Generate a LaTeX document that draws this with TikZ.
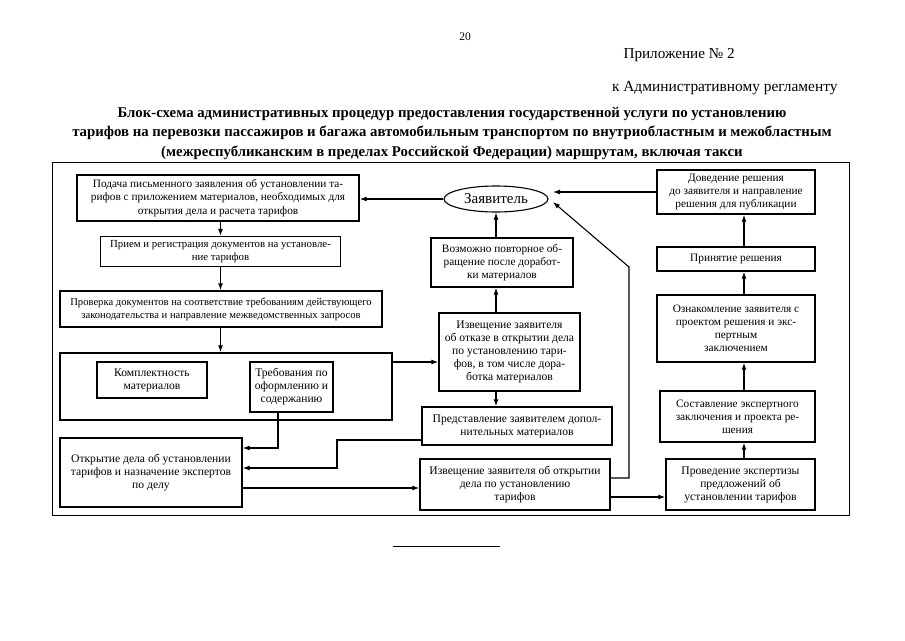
\documentclass[tikz,border=0pt]{standalone}
\usepackage{fontspec}
\setmainfont{Liberation Serif}
\usetikzlibrary{shapes.geometric,arrows.meta}
\begin{document}
\begin{tikzpicture}[x=1pt,y=-1pt,
  box/.style={draw,line width=1.4pt,align=center,inner sep=0pt,font=\fontsize{11.6}{13}\selectfont},
  arr/.style={line width=1.1pt,-{Latex[length=7pt,width=5pt]}},
  ln/.style={line width=1pt}]
\useasboundingbox (0,0) rectangle (905,640);
% header
\node[font=\fontsize{11.5}{13}\selectfont] (pg) at (465,37) {20};
\node[font=\fontsize{15.2}{17}\selectfont,anchor=west] (app) at (620,55) {Приложение № 2};
\node[font=\fontsize{15.4}{17}\selectfont,anchor=east] (reg) at (841,88) {к Административному регламенту};
\node[font=\bfseries\fontsize{14.8}{19.5}\selectfont,align=center] (title) at (452,133) {Блок-схема административных процедур предоставления государственной услуги по установлению\\тарифов на перевозки пассажиров и багажа автомобильным транспортом по внутриобластным и межобластным\\(межреспубликанским в пределах Российской Федерации) маршрутам, включая такси};
% frame
\draw[ln] (52,162) rectangle (849,515);
% left column
\node[box,font=\fontsize{11.3}{13.5}\selectfont,minimum width=282pt,minimum height=46pt] (b1) at (218,198) {Подача письменного заявления об установлении та-\\рифов с приложением материалов, необходимых для\\открытия дела и расчета тарифов};
\node[box,font=\fontsize{10.8}{13}\selectfont,minimum width=240pt,minimum height=30pt] (b2) at (220.5,251.5) {Прием и регистрация документов на установле-\\ние тарифов};
\node[box,font=\fontsize{10.6}{13}\selectfont,minimum width=322pt,minimum height=36pt] (b3) at (221,309) {Проверка документов на соответствие требованиям действующего\\законодательства и направление межведомственных запросов};
\node[box,minimum width=332pt,minimum height=67pt] (big) at (226,386.5) {};
\node[box,minimum width=110pt,minimum height=36pt] (komp) at (152,380) {Комплектность\\материалов};
\node[box,minimum width=83pt,minimum height=50pt] (treb) at (291.5,387) {Требования по\\оформлению и\\содержанию};
\node[box,minimum width=182pt,minimum height=69pt] (otkr) at (151,472.5) {Открытие дела об установлении\\тарифов и назначение экспертов\\по делу};
% middle column
\node[draw,line width=1.1pt,ellipse,minimum width=104pt,minimum height=26pt,inner sep=0pt,font=\fontsize{15}{17}\selectfont] (ell) at (496,199) {Заявитель};
\node[box,font=\fontsize{11.3}{13}\selectfont,minimum width=142pt,minimum height=49pt] (vozm) at (502,262.5) {Возможно повторное об-\\ращение после доработ-\\ки материалов};
\node[box,minimum width=141pt,minimum height=78pt] (otkaz) at (509.5,352) {Извещение заявителя\\об отказе в открытии дела\\по установлению тари-\\фов, в том числе дора-\\ботка материалов};
\node[box,minimum width=190pt,minimum height=38pt] (predst) at (517,426) {Представление заявителем допол-\\нительных материалов};
\node[box,minimum width=190pt,minimum height=51pt] (izv) at (515,484.5) {Извещение заявителя об открытии\\дела по установлению\\тарифов};
% right column
\node[box,font=\fontsize{11.3}{13}\selectfont,minimum width=158pt,minimum height=44pt] (dov) at (736,192) {Доведение решения\\до заявителя и направление\\решения для публикации};
\node[box,font=\fontsize{11.3}{13}\selectfont,minimum width=158pt,minimum height=24pt] (prin) at (736,259) {Принятие решения};
\node[box,font=\fontsize{11.3}{13}\selectfont,minimum width=158pt,minimum height=67pt] (ozn) at (736,328.5) {Ознакомление заявителя с\\проектом решения и экс-\\пертным\\заключением};
\node[box,font=\fontsize{11.3}{13}\selectfont,minimum width=155pt,minimum height=51pt] (sost) at (737.5,416.5) {Составление экспертного\\заключения и проекта ре-\\шения};
\node[box,minimum width=149pt,minimum height=51pt] (prov) at (740.5,484.5) {Проведение экспертизы\\предложений об\\установлении тарифов};
% bottom rule
\coordinate (r1) at (393,546);
\coordinate (r2) at (500,546);
\draw[ln] (r1) -- (r2);
% helper coordinates
\coordinate (et) at (553,202);
\coordinate (et2) at (553,192);
\coordinate (rv) at (629,267);
\coordinate (j1) at (337,468);
\coordinate (j2) at (278,448);
\coordinate (rx) at (744,0);
% connectors
\draw[arr] (dov.west |- et2) -- (et2);
\draw[arr] (ell.west) -- (ell.west -| b1.east);
\draw[arr] (b1.south -| b2.north) -- (b2.north);
\draw[arr] (b2.south) -- (b2.south |- b3.north);
\draw[arr] (b2.south |- b3.south) -- (b2.south |- big.north);
\draw[arr] (big.east |- 0,362) -- (otkaz.west |- 0,362);
\draw[arr] (vozm.north -| ell.south) -- (ell.south);
\draw[arr] (otkaz.north -| ell.south) -- (vozm.south -| ell.south);
\draw[arr] (otkaz.south -| ell.south) -- (predst.north -| ell.south);
\draw[arr] ([yshift=-14pt]predst.west) -| (j1) -- (j1 -| otkr.east);
\draw[arr] (treb.south -| j2) -- (j2) -- (j2 -| otkr.east);
\draw[arr] ([yshift=-15.5pt]otkr.east) coordinate (t1) -- (t1 -| izv.west);
\draw[arr] ([yshift=6.5pt]izv.east) -| (rv) -- (et);
\draw[arr] ([yshift=-12.5pt]izv.east) -- ([yshift=-12.5pt]prov.west);
\draw[arr] (prov.north -| rx) -- (sost.south -| rx);
\draw[arr] (sost.north -| rx) -- (ozn.south -| rx);
\draw[arr] (ozn.north -| rx) -- (prin.south -| rx);
\draw[arr] (prin.north -| rx) -- (dov.south -| rx);
\end{tikzpicture}
\end{document}
